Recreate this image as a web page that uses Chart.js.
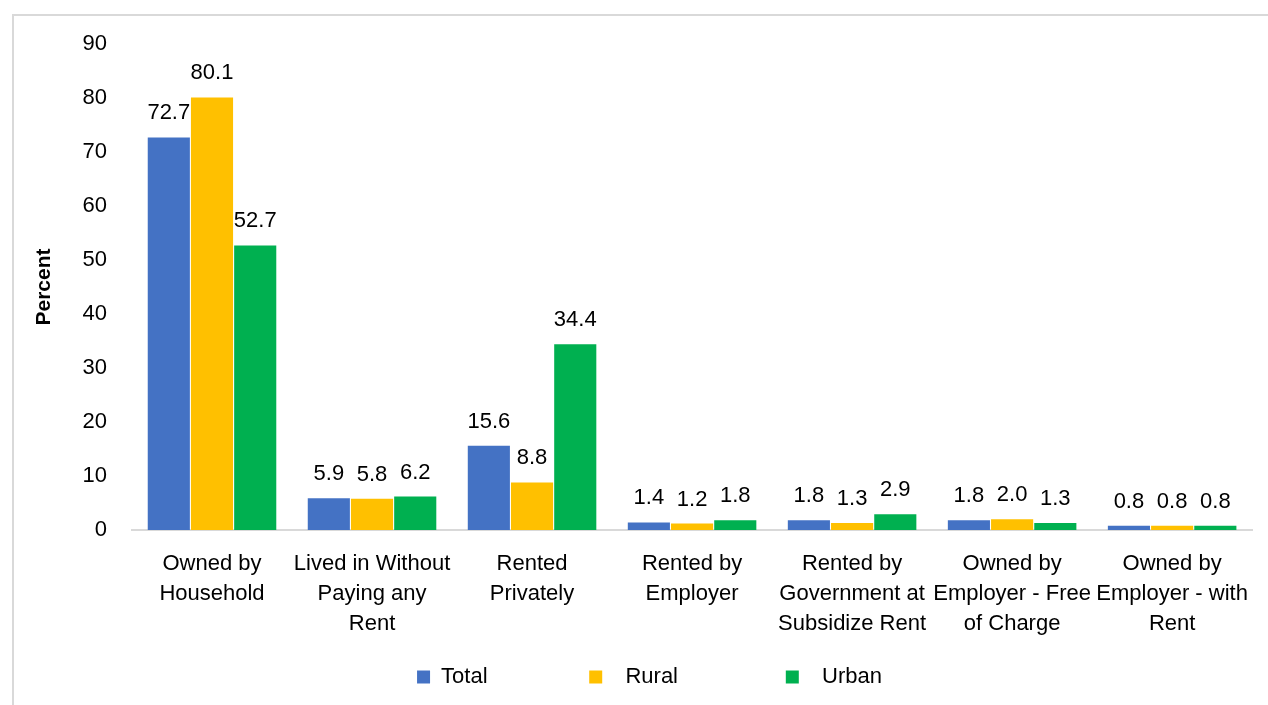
<!DOCTYPE html>
<html>
<head>
<meta charset="utf-8">
<script src="https://cdn.jsdelivr.net/npm/chart.js@4.4.0/dist/chart.umd.min.js"></script>
<style>
    body { margin: 0; background: #fff; }
    #wrap { position: relative; width: 1268px; height: 705px; }
    #frame { position: absolute; left: 12px; top: 14px; right: -4px; bottom: -4px;
             border-left: 2px solid #d9d9d9; border-top: 2px solid #d9d9d9; }
    canvas { position: absolute; left: 0; top: 0; }
</style>
</head>
<body>
<div id="wrap">
    <div id="frame"></div>
    <canvas id="chartTenure" width="1268" height="705"></canvas>
</div>
<script>
// Data ------------------------------------------------------------------------
var categories = [
    ['Owned by', 'Household'],
    ['Lived in Without', 'Paying any', 'Rent'],
    ['Rented', 'Privately'],
    ['Rented by', 'Employer'],
    ['Rented by', 'Government at', 'Subsidize Rent'],
    ['Owned by', 'Employer - Free', 'of Charge'],
    ['Owned by', 'Employer - with', 'Rent']
];
var totalValues = [72.7, 5.9, 15.6, 1.4, 1.8, 1.8, 0.8];
var ruralValues = [80.1, 5.8, 8.8, 1.2, 1.3, 2.0, 0.8];
var urbanValues = [52.7, 6.2, 34.4, 1.8, 2.9, 1.3, 0.8];
var seriesNames = ['Total', 'Rural', 'Urban'];
var yTicks = [0, 10, 20, 30, 40, 50, 60, 70, 80, 90];

var colors = ['#4472C4', '#FFC000', '#00B050'];
var fontFamily = "'Liberation Sans', Arial, sans-serif";

// legend text spacing (Excel leaves wide gaps between entries)
var legendLead = ['', '  ', '  '];
var legendTrail = [15, 16, 0];

// Value labels above bars ------------------------------------------------------
var valueLabels = {
    id: 'valueLabels',
    afterDatasetsDraw: function(chart) {
        var ctx = chart.ctx;
        ctx.save();
        ctx.font = '22px ' + fontFamily;
        ctx.fillStyle = '#000';
        ctx.textAlign = 'center';
        ctx.textBaseline = 'alphabetic';
        chart.data.datasets.forEach(function(ds, i) {
            chart.getDatasetMeta(i).data.forEach(function(bar, j) {
                ctx.fillText(ds.data[j].toFixed(1), bar.x, bar.y - 18);
            });
        });
        ctx.restore();
    }
};

// Chart -------------------------------------------------------------------------
const ctx_tenure = document.getElementById('chartTenure').getContext('2d');

const chartTenure = new Chart(ctx_tenure, {
    type: 'bar',
    data: {
        labels: categories,
        datasets: [
            { label: seriesNames[0], data: totalValues, backgroundColor: colors[0] },
            { label: seriesNames[1], data: ruralValues, backgroundColor: colors[1] },
            { label: seriesNames[2], data: urbanValues, backgroundColor: colors[2] }
        ]
    },
    options: {
        responsive: false,
        animation: false,
        layout: {
            padding: { top: 44, right: 15, bottom: 7, left: 46 }
        },
        datasets: {
            bar: {
                categoryPercentage: 0.81,
                barPercentage: 0.975
            }
        },
        plugins: {
            tooltip: { enabled: false },
            legend: {
                position: 'bottom',
                labels: {
                    color: '#000',
                    font: { family: fontFamily, size: 22 },
                    boxWidth: 13,
                    boxHeight: 13,
                    padding: 10,
                    generateLabels: function(chart) {
                        var items = Chart.defaults.plugins.legend.labels.generateLabels(chart);
                        items.forEach(function(item, i) {
                            item.text = legendLead[i] + item.text + ' '.repeat(legendTrail[i]);
                            item.lineWidth = 0;
                        });
                        return items;
                    }
                }
            }
        },
        scales: {
            x: {
                afterFit: function(scale) { scale.height = 126; },
                grid: {
                    display: false,
                    drawTicks: false
                },
                border: { color: '#d9d9d9', width: 2 },
                ticks: {
                    color: '#000',
                    font: { family: fontFamily, size: 22, lineHeight: 1.36 },
                    padding: 19,
                    maxRotation: 0,
                    autoSkip: false
                }
            },
            y: {
                min: 0,
                max: 90,
                afterFit: function(scale) { scale.width = 86; },
                afterBuildTicks: function(scale) {
                    scale.ticks = yTicks.map(function(v) { return { value: v }; });
                },
                grid: { display: false, drawTicks: false },
                border: { display: false },
                ticks: {
                    color: '#000',
                    font: { family: fontFamily, size: 22 },
                    padding: 25
                },
                title: {
                    display: true,
                    text: 'Percent',
                    color: '#000',
                    font: { family: fontFamily, size: 21, weight: 'bold' },
                    padding: { top: -14, bottom: 0 }
                }
            }
        }
    },
    plugins: [valueLabels]
});
</script>
</body>
</html>
